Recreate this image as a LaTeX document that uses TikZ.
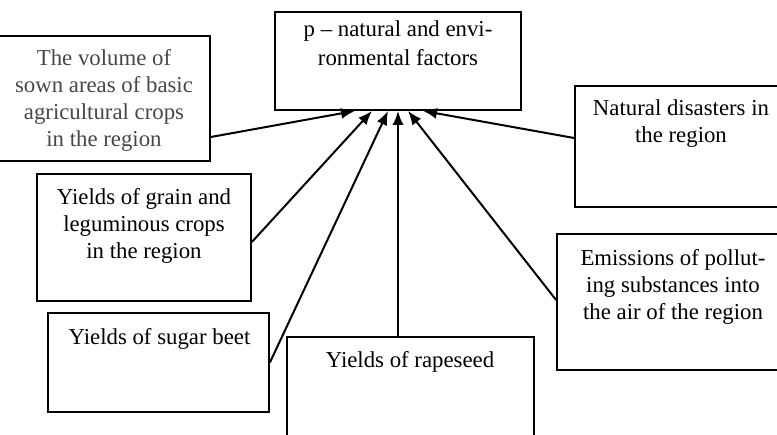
\documentclass[tikz,border=0pt]{standalone}
\usepackage{fontspec}
\setmainfont{Liberation Serif}
\usetikzlibrary{arrows.meta}
\begin{document}
\begin{tikzpicture}[x=1pt,y=-1pt,
  box/.style={draw,line width=1.8pt,inner sep=0pt},
  txt/.style={anchor=north,align=center,inner sep=0pt,font=\fontsize{22.8}{27}\selectfont},
  arr/.style={line width=2pt,-{Latex[length=14pt,width=11pt]}}]
\useasboundingbox (0,0) rectangle (777,435);
\clip (0,0) rectangle (777,435);
% boxes
\node[box,minimum width=246pt,minimum height=98pt] (top) at (398,61) {};
\node[box,minimum width=212pt,minimum height=125pt] (vol) at (104,98.5) {};
\node[box,minimum width=212pt,minimum height=121pt] (nat) at (681,146.5) {};
\node[box,minimum width=214pt,minimum height=127pt] (grain) at (144,237.5) {};
\node[box,minimum width=221pt,minimum height=99pt] (sugar) at (158.5,362.5) {};
\node[box,minimum width=247pt,minimum height=123pt] (rape) at (410.5,398.5) {};
\node[box,minimum width=232pt,minimum height=136pt] (emis) at (673,302) {};
% texts
\node[txt,font=\fontsize{22.8}{29}\selectfont] (ttop) at (398,20) {p -- natural and envi-\\ronmental factors};
\node[txt,text=black!72] (tvol) at (104,49) {The volume of\\sown areas of basic\\agricultural crops\\in the region};
\node[txt] (tnat) at (681,99) {Natural disasters in\\the region};
\node[txt] (tgrain) at (144,188) {Yields of grain and\\leguminous crops\\in the region};
\node[txt] (tsugar) at (159.5,328) {Yields of sugar beet};
\node[txt] (trape) at (410,351) {Yields of rapeseed};
\node[txt] (temis) at (673,249) {Emissions of pollut-\\ing substances into\\the air of the region};
% arrows
\draw[arr] ([yshift=-38.5pt]vol.east) -- ([xshift=-43pt]top.south);
\draw[arr] ([yshift=-4.5pt]grain.east) -- ([xshift=-26pt]top.south);
\draw[arr] (sugar.east) -- ([xshift=-10pt]top.south);
\draw[arr] ([xshift=-12.5pt]rape.north) -- (top.south);
\draw[arr] ([yshift=2pt]emis.west) -- ([xshift=10pt]top.south);
\draw[arr] ([yshift=8.5pt]nat.west) -- ([xshift=25pt]top.south);
\end{tikzpicture}
\end{document}
